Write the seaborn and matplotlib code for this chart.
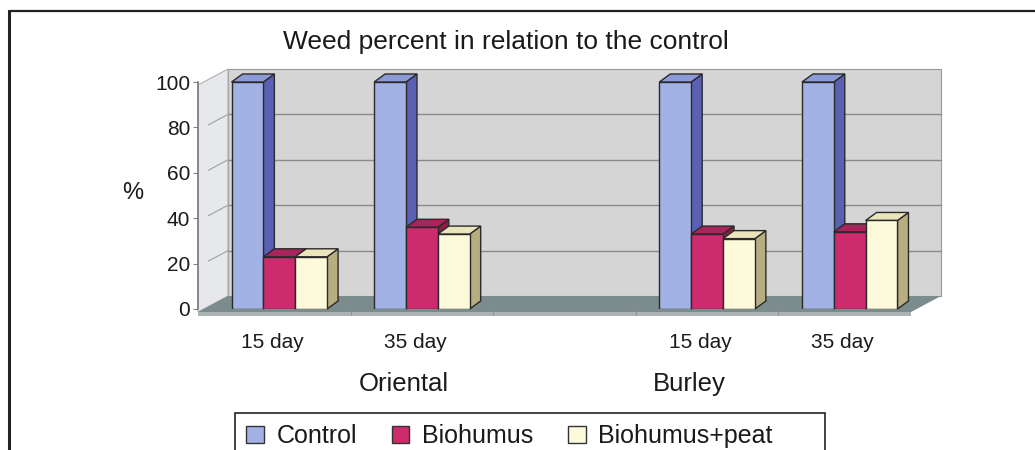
import numpy as np
import pandas as pd
import matplotlib
matplotlib.use("Agg")
import matplotlib.pyplot as plt
import seaborn as sns
from matplotlib.patches import Polygon, Patch, Rectangle
from matplotlib.transforms import IdentityTransform, offset_copy, ScaledTranslation
from matplotlib.lines import Line2D

# data
varieties = ["Oriental", "Burley"]
days = ["15 day", "35 day"]
treatments = ["Control", "Biohumus", "Biohumus+peat"]
control = [100, 100, 100, 100]
biohumus = [23, 36, 33, 34]
biohumus_peat = [23, 33, 31, 39]
slot_order = ["Oriental 15", "Oriental 35", "gap", "Burley 15", "Burley 35"]
tick_labels = ["15 day", "35 day", "", "15 day", "35 day"]
y_ticks = [0, 20, 40, 60, 80, 100]

front_colors = ["#a2b2e4", "#cc2b6e", "#fdf9db"]
side_colors = ["#5a60b4", "#8a1f46", "#b6ad80"]
top_colors = ["#8d9bd8", "#a8245a", "#ebe5bd"]

slots = [s for s in slot_order if s != "gap"]
df = pd.DataFrame({
    "slot": slots * 3,
    "treatment": np.repeat(treatments, len(slots)),
    "value": control + biohumus + biohumus_peat,
})

sns.set_theme(style="white")
plt.rcParams["font.family"] = ["Liberation Sans", "DejaVu Sans"]

W, H = 1035, 450
fig = plt.figure(figsize=(W / 100, H / 100), dpi=100)
fig.patch.set_facecolor("white")
# bar plane: 0 at y=309px, 100 at y=82px, slots from x=208 to 921
ax = fig.add_axes([208 / W, (H - 309) / H, (921 - 208) / W, 227 / H])
ax.patch.set_visible(False)

sns.barplot(data=df, x="slot", y="value", hue="treatment", order=slot_order,
            hue_order=treatments, palette=front_colors, width=0.67, gap=0,
            edgecolor="#2a2a2a", linewidth=1, saturation=1, legend=False, ax=ax)
ax.set_xlim(-0.5, len(slot_order) - 0.5)
ax.set_ylim(0, 100)
fig.canvas.draw()
containers = list(ax.containers)

FRONT = np.array([-10, -3])
BACK = np.array([20, 13])
DEPTH = np.array([11, 8])


def ax_pt(xf, yf, off):
    return ax.transAxes.transform((xf, yf)) + off


def add_poly(pts, fc, ec="none", z=0.1, lw=0.8):
    ax.add_patch(Polygon(pts, closed=True, facecolor=fc, edgecolor=ec, lw=lw,
                         transform=IdentityTransform(), clip_on=False, zorder=z))


# back wall, side wall and floor
add_poly([ax_pt(0, 0, BACK), ax_pt(1, 0, BACK), ax_pt(1, 1, BACK), ax_pt(0, 1, BACK)],
         "#d5d5d5", ec="#9a9a9a", z=0.1)
add_poly([ax_pt(0, 0, FRONT), ax_pt(0, 1, FRONT), ax_pt(0, 1, BACK), ax_pt(0, 0, BACK)],
         "#e6e8ec", ec="#b0b0b0", z=0.2)
add_poly([ax_pt(0, 0, FRONT), ax_pt(1, 0, FRONT), ax_pt(1, 0, BACK), ax_pt(0, 0, BACK)],
         "#7c8b8b", z=0.3)
add_poly([ax_pt(0, 0, FRONT), ax_pt(1, 0, FRONT), ax_pt(1, 0, FRONT + [0, -4]),
          ax_pt(0, 0, FRONT + [0, -4])], "#aab4b4", z=0.3)

wall_tr = offset_copy(ax.transData, fig=fig, x=BACK[0], y=BACK[1], units="dots")
for v in y_ticks[1:-1]:
    ax.plot([-0.5, len(slot_order) - 0.5], [v, v], color="#8a8a8a", lw=1,
            transform=wall_tr, zorder=0.15, clip_on=False)
    p0 = ax.transData.transform((-0.5, v))
    ax.add_line(Line2D([p0[0] + FRONT[0], p0[0] + BACK[0]], [p0[1] + FRONT[1], p0[1] + BACK[1]],
                       color="#a0a0a0", lw=0.8, transform=IdentityTransform(), zorder=0.25))

# 3D faces for each bar
for k, cont in enumerate(containers):
    for bar in cont:
        if not np.isfinite(bar.get_height()) or bar.get_height() <= 0:
            continue
        bar.set_zorder(2 + k)
        x0, w, h = bar.get_x(), bar.get_width(), bar.get_height()
        tl = ax.transData.transform((x0, h))
        tr = ax.transData.transform((x0 + w, h))
        br = ax.transData.transform((x0 + w, 0))
        add_poly([br, tr, tr + DEPTH, br + DEPTH], side_colors[k], ec="#2a2a2a", z=2 + k - 0.1, lw=1)
        add_poly([tl, tr, tr + DEPTH, tl + DEPTH], top_colors[k], ec="#2a2a2a", z=2 + k - 0.1, lw=1)

# axes styling
for s in ["top", "right"]:
    ax.spines[s].set_visible(False)
ax.spines["left"].set_position(("outward", 7.2))
ax.spines["left"].set_color("#808080")
ax.spines["bottom"].set_visible(False)
ax.set_yticks(y_ticks)
ax.tick_params(axis="y", left=True, length=3.5, width=0.8, color="#808080",
               labelsize=15, pad=2, labelcolor="#1a1a1a")
ax.set_xticks(range(len(slot_order)))
ax.set_xticklabels(tick_labels)
ax.set_xticks([0.5, 1.5, 2.5, 3.5], minor=True)
ax.tick_params(axis="x", which="major", length=0, labelsize=15, pad=17, labelcolor="#1a1a1a")
ax.tick_params(axis="x", which="minor", bottom=True, length=4, width=0.8, color="#909090")
ax.set_xlabel("")
ax.set_ylabel("")
shift = ScaledTranslation(-7 / 100, 0, fig.dpi_scale_trans)
for lab in ax.get_xticklabels():
    lab.set_transform(lab.get_transform() + shift)

for var, pos in zip(varieties, [1, 3]):
    ax.annotate(var, xy=(pos, 0), xycoords=("data", "axes fraction"),
                xytext=(-13, -54), textcoords="offset points",
                ha="center", va="center", fontsize=18.5, color="#1a1a1a")

fig.text(506 / W, 1 - 42 / H, "Weed percent in relation to the control",
         ha="center", va="center", fontsize=19, color="#1a1a1a")
fig.text(133 / W, 1 - 193 / H, "%", ha="center", va="center", fontsize=17, color="#1a1a1a")

# legend, its box is wider than its entries in the original
handles = [Patch(facecolor=c, edgecolor="#333333", lw=1) for c in front_colors]
leg = fig.legend(handles, treatments, loc="upper left", bbox_to_anchor=(235 / W, 1 - 413 / H),
                 ncol=3, fontsize=18, frameon=False, borderpad=0.45,
                 handlelength=0.7, handleheight=0.7, handletextpad=0.5, columnspacing=1.4,
                 borderaxespad=0)
for t in leg.get_texts():
    t.set_color("#1a1a1a")
fig.add_artist(Rectangle((235 / W, -0.05), (825 - 235) / W, 0.05 + 37 / H, fill=False,
                         edgecolor="#222222", lw=1.2, transform=fig.transFigure))

# outer frame of the scanned figure
fig.add_artist(Line2D([9 / W, 9 / W], [0, 1 - 11 / H], color="#222222", lw=2.2,
                      transform=fig.transFigure))
fig.add_artist(Line2D([9 / W, 1], [1 - 11 / H, 1 - 11 / H], color="#222222", lw=1.6,
                      transform=fig.transFigure))

fig.savefig("out.png", dpi=100)
